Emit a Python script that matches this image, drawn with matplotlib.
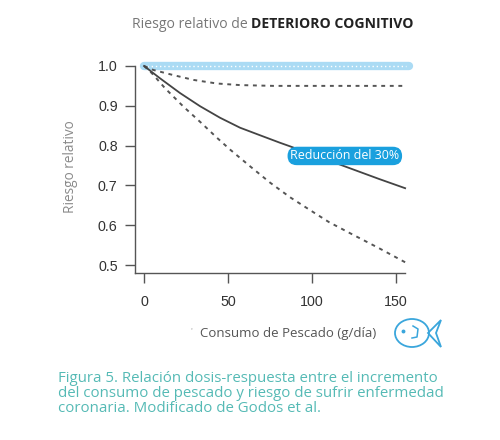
import matplotlib
matplotlib.use("Agg")
import matplotlib.pyplot as plt
from matplotlib.patches import Ellipse, Polygon
from matplotlib.lines import Line2D

# ---- data ----
x_solid = [0, 9.5, 21.4, 33.3, 45.2, 57.1, 69, 81, 87, 100, 122.6, 140, 155.4]
y_solid = [1.0, 0.969, 0.932, 0.899, 0.870, 0.845, 0.826, 0.807, 0.798, 0.778, 0.743, 0.716, 0.693]

x_upper = [0, 5.5, 17.5, 29.4, 43.3, 57, 77, 100, 130, 155]
y_upper = [1.0, 0.990, 0.977, 0.965, 0.956, 0.952, 0.950, 0.950, 0.950, 0.950]

x_lower = [0, 4.6, 12.5, 23.4, 34.3, 43.3, 51.2, 63.1, 75, 87, 98.8, 110, 122.6, 140, 155.4]
y_lower = [1.0, 0.982, 0.944, 0.898, 0.856, 0.820, 0.790, 0.748, 0.707, 0.670, 0.638, 0.608, 0.580, 0.542, 0.507]

x_ref = [0, 158]
y_ref = [1.0, 1.0]

xticks = [0, 50, 100, 150]
yticks = [0.5, 0.6, 0.7, 0.8, 0.9, 1.0]
ytick_labels = ["0.5", "0.6", "0.7", "0.8", "0.9", "1.0"]

label_text = "Reducción del 30%"
label_pos = (119.5, 0.774)

fig = plt.figure(figsize=(5.0, 4.4), dpi=100)
fig.patch.set_facecolor("white")

W, H = 500, 440
def fx(px):
    return px / W
def fy(py):
    return 1 - py / H

ax = fig.add_axes([fx(135), fy(273), fx(410) - fx(135), fy(60) - fy(273)])
ax.set_xlim(-5.4, 158.3)
ax.set_ylim(0.48, 1.015)
ax.set_facecolor("none")

for s in ["top", "right"]:
    ax.spines[s].set_visible(False)
ax.spines["left"].set_bounds(0.48, 1.0)
ax.spines["bottom"].set_bounds(-5.4, 155.5)
for s in ["left", "bottom"]:
    ax.spines[s].set_color("#555555")
    ax.spines[s].set_linewidth(1.0)

ax.set_xticks(xticks)
ax.set_xticklabels([str(t) for t in xticks])
ax.set_yticks(yticks)
ax.set_yticklabels(ytick_labels)
ax.tick_params(axis="both", colors="#555555", labelcolor="#333333",
               labelsize=10.3, length=7.5, width=1.0, pad=5)
ax.tick_params(axis="x", pad=8)
for lab in ax.get_xticklabels() + ax.get_yticklabels():
    lab.set_family("Liberation Sans")

# reference band at RR = 1
ax.plot(x_ref, y_ref, color="#abdbf4", lw=6, solid_capstyle="round",
        zorder=2, clip_on=False)
ax.plot([1.5, 156], y_ref, color="white", lw=1.0, ls=(0, (1, 2)), zorder=3,
        clip_on=False)

# curves
ax.plot(x_upper, y_upper, color="#555555", lw=1.4, ls=(0, (2, 2.4)), zorder=4)
ax.plot(x_lower, y_lower, color="#555555", lw=1.4, ls=(0, (2, 2.4)), zorder=4)
ax.plot(x_solid, y_solid, color="#444444", lw=1.3, zorder=4)

ax.text(label_pos[0], label_pos[1], label_text, ha="center", va="center",
        color="white", fontsize=8.9, family="Open Sans", zorder=6,
        bbox=dict(boxstyle="round,pad=0.22,rounding_size=0.75",
                  fc="#1aa0de", ec="none"))

# y label
fig.text(fx(70), fy(167), "Riesgo relativo", color="#8a8a8a", fontsize=9.8,
         family="Open Sans", rotation=90, ha="center", va="center")

# title
t1 = fig.text(fx(132), fy(24), "Riesgo relativo de ", color="#777777",
              fontsize=10.1, family="Open Sans", ha="left", va="center")
fig.canvas.draw()
bb = t1.get_window_extent()
fig.text(bb.x1 / W, fy(24), "DETERIORO COGNITIVO", color="#222222",
         fontsize=10.1, family="Open Sans", fontweight="bold",
         ha="left", va="center")

# x label
fig.text(fx(191), fy(331), "'", color="#999999", fontsize=6,
         family="Open Sans", ha="center", va="center")
fig.text(fx(200), fy(333), "Consumo de Pescado (g/día)", color="#555555",
         fontsize=9.5, family="Open Sans", ha="left", va="center")

# fish icon
fish_c = "#3aa6dc"
body = Ellipse((fx(412), fy(333)), fx(34), 28 / H, fill=False,
               ec=fish_c, lw=1.3, transform=fig.transFigure)
fig.add_artist(body)
tail = Polygon([[fx(428), fy(333)], [fx(441), fy(320)], [fx(436), fy(333)],
                [fx(441), fy(347)]], closed=True, fill=False, ec=fish_c,
               lw=1.3, transform=fig.transFigure)
fig.add_artist(tail)
fig.add_artist(Line2D([fx(403)], [fy(331)], marker="o", ms=1.8, color=fish_c,
                      transform=fig.transFigure))
fig.add_artist(Line2D([fx(413), fx(418), fx(417), fx(412)],
                      [fy(326), fy(329), fy(337), fy(338)],
                      color=fish_c, lw=1.1, transform=fig.transFigure))

# caption
caption = ("Figura 5. Relación dosis-respuesta entre el incremento\n"
           "del consumo de pescado y riesgo de sufrir enfermedad\n"
           "coronaria. Modificado de Godos et al.")
fig.text(fx(58), fy(371), caption, color="#55bab5", fontsize=10.8,
         family="Open Sans", ha="left", va="top", linespacing=1.02)

fig.savefig("out.png", dpi=100, facecolor="white")
